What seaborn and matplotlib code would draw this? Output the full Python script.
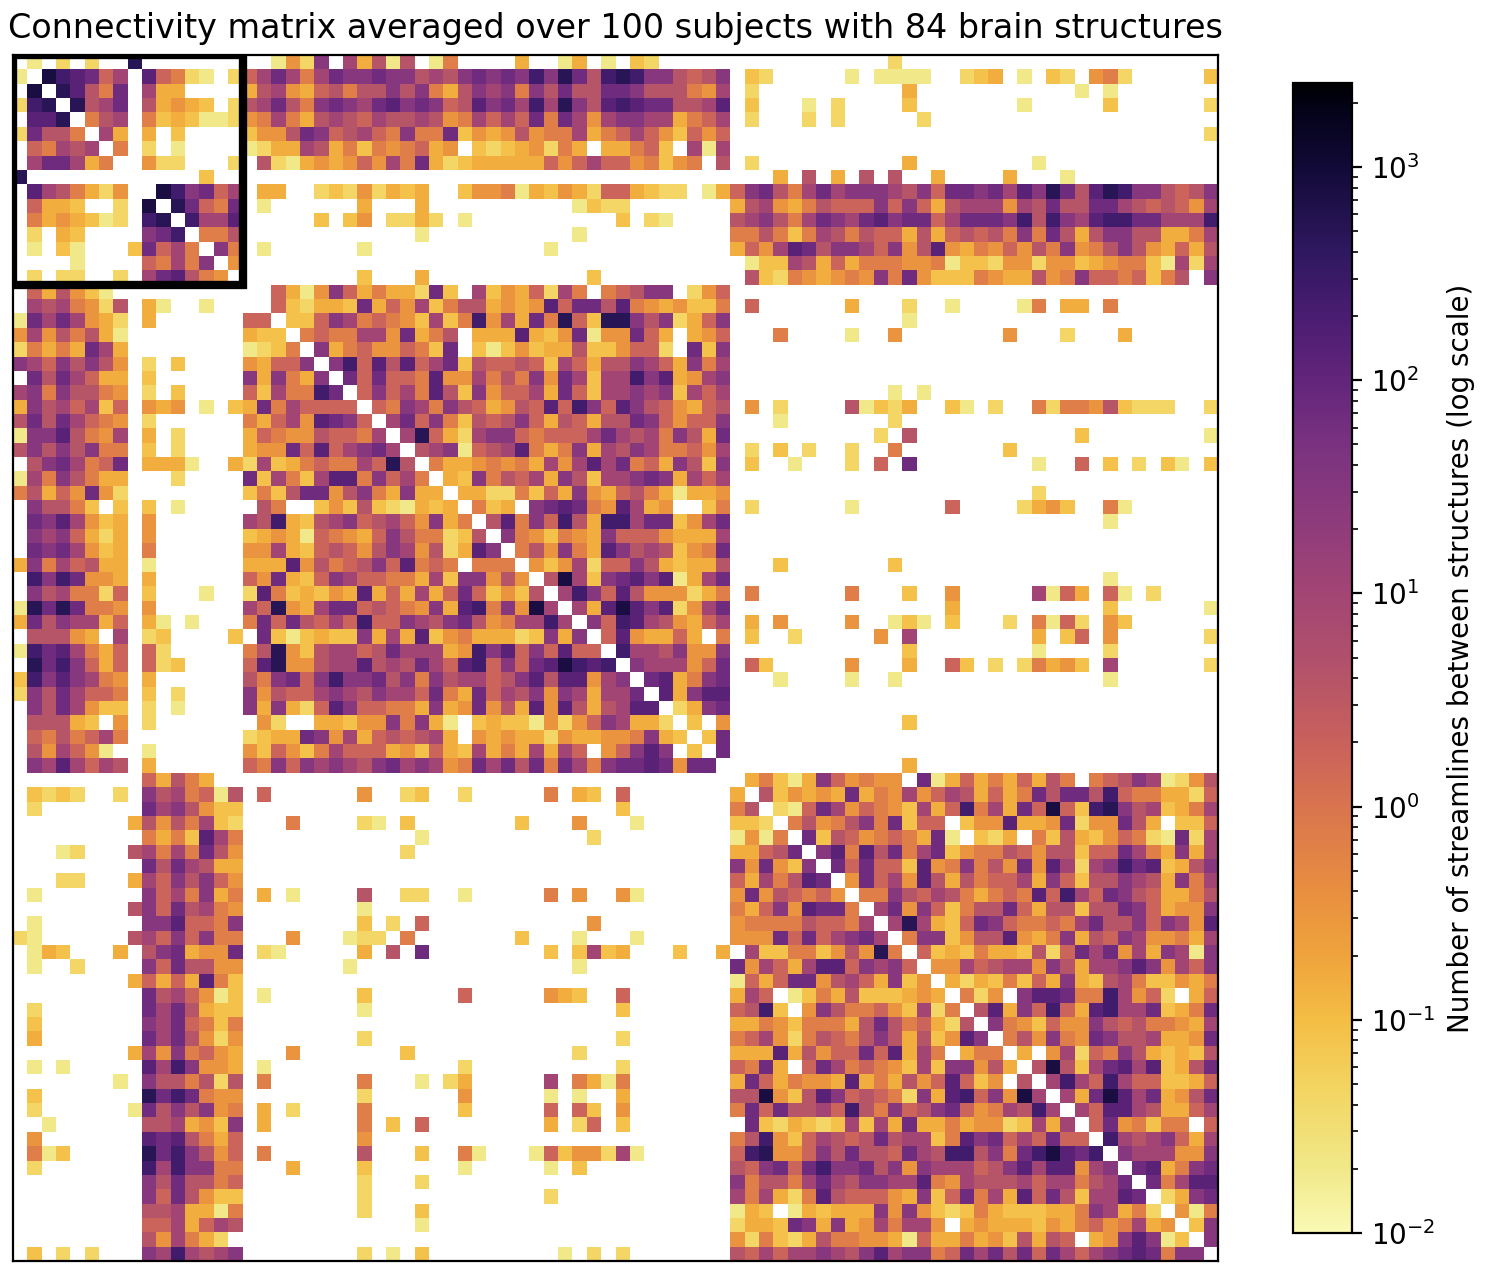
import numpy as np
import matplotlib
matplotlib.use("Agg")
import matplotlib.pyplot as plt
from matplotlib.colors import LinearSegmentedColormap, LogNorm
from matplotlib.patches import Rectangle
import seaborn as sns

# streamline counts, one symbol per cell ('.' = no connection)
level_codes = "0123456789abcde"
level_values = [0.02, 0.045, 0.085, 0.15, 0.33, 0.7, 1.8, 4, 10, 30, 70, 130, 250, 500, 800]

# upper triangle only, the matrix is symmetric
# rows 0-27: cols i-27 | cols 28-55 | cols 56-83
rows_top = [
    ".0.1.1..d.........0419.83707 .05....3..03.0.21 .....1",
    ".ecba68.b6510.168a858a99a99 7879a9a9c9da7cdc997679.21 ..0.0000..123.0.21.451.....2",
    ".db75a.833....378436757797 9537989597a77aa9777548.1 ......3...........0.0",
    ".d78a.73432.178a759a98ab9 a967b9a8c8d97bcbaa778b.2...0 .1....2.......0.....2......1",
    ".578.5232001458537876877 87458686a5a84899883568.1...1 .1.....1",
    ".83.3.2....2447a9678659 55a2434745583568642646 ...........................1",
    ".5.1.0....013387352545 634.21234153.33562.808 .",
    "..411...1.71034346485 a3123333364686645245.7.1 ......3........0",
    ".....2.. .........................3.7 .3.7.7..3....3...0",
    ".ec9a68.33..1214132 3..2445032431663211.0369a758 a89998796aa9a8b9da7bdc997679",
    ".da65a.0......3 3..........0211.......378435 7666969637888487a77aa8767648",
    ".c88b.....2.24.11 31.0..........2.10....789758 a98ab9aa68aaa9c7c98bccaa888c",
    ".557 0..........0..........557525 8757663736767595a73799773358",
    ".95.0......0 .........0............3648ba 79986947b4354647594579743637",
    ".4 .......................02287 3635554450221441442345520818",
    ".........2 3...........2..........72154 345495a4222543374596656257.9",
    "..6304963533 1a2.82436185.56799.146 .",
    ".621332a364 825773434b6aa7b5434225.6 ..3...1..0....05.33.5",
    ".226985654 2825c483a5d62dd9791369 ......0",
    ".5655884a 357.333b324a044a63.346...5 ..0..4.......4...1...3",
    ".9356446 52a.20242337224661.a29 .",
    ".9c6b7b 68a2766762863779863958 .",
    ".a6a66 5b44857594a8288c9b3489 .",
    ".6968 5b72946683a62889892868 .....0.0",
    ".659 859763476b6c96b9764367.4.1 ..70213..20.1..5155472111..1",
    ".8a 695276796376377a964669...0 .....1",
    ".8 d631899656668a8785973a ....1.7...........2........0",
    ". 7890678b53593879855648.1.2.1 ..1..5.......2",
]

# rows 28-55: cols i-55 | cols 56-83
rows_mid = [
    ".53345453848b8a5639729.2..0. ..1.6.a........0..6.2.1.20.2",
    ".32957683972889a93868 .",
    ".3311526394367530334 ...............1",
    ".523.9aba54b834..25.1 ..0......6....1342..50",
    ".7b596c73cc8aa248a ....................0",
    ".9542543966643338 .",
    ".574953b9787245a .",
    ".42481669732337...2 .....2",
    ".7e829ab9b038a ....................0",
    ".8c96b7444135.5 ..5...2..4.....8063.60.1",
    ".83beb9b148a .........3..........2......0",
    ".96cb874368.3.4 ..4..020.2...1.5061.42",
    ".6b43363.5.2..1 ....4.8........3.26.4......1",
    ".c8879449 ......2........0....1",
    ".988846a.62 ..4...3..62.1.15342.8......1",
    ".ab359a...0 ..0..0..............0",
    ".b39bb .",
    ".139a .",
    ".2.4 ......2",
    ".2a .",
    ".a .",
    ". ......3",
    ".35203 964544.a0363536375.567980147",
    ".7243 43a354846873635a7aa7c6553316",
    ".106 a846542836c583a6e62cd9782358",
    ".57 45795a266.244b334a144a73.226",
    ".a 27645653a0.213.5273246510a18",
    ". 9b5b7a58a245576477266a853938",
]

# rows 56-83: cols i-83
rows_low = [
    ".a6a662b459574a4b8189cab2379",
    ".4a684b73756683962779873958",
    ".559768753565b6c86a9763357",
    ".8a4962577a6377277a963449",
    ".8d8326a9655658a7796984b",
    ".5992477b43593769844538",
    ".62325332716a8a4839809",
    ".44867884973889b94869",
    ".3132526393278522435",
    ".514.9bba55c8461.36",
    ".7b396c63bc88a235a",
    ".9542644976755438",
    ".574954a9778334a",
    ".3.481659732327",
    ".7e728ab8b237a",
    ".8c86c8662236",
    ".83aeb8a347a",
    ".86bb873368",
    ".6a45255.6",
    ".c8789638",
    ".9888449",
    ".ab359a",
    ".a58bb",
    ".139a",
    ".405",
    ".29",
    ".9",
    ".",
]

title = "Connectivity matrix averaged over 100 subjects with 84 brain structures"
cbar_label = "Number of streamlines between structures (log scale)"
vmin, vmax = 0.01, 2480

# colours seen along the colorbar, at these values
cmap_values = [0.01, 0.02, 0.05, 0.1, 0.2, 0.4, 1, 2, 5, 10, 20, 50, 100, 200, 400, 1000, 2000, 2480]
cmap_colors = ["#fbfab5", "#f0e888", "#f3d35f", "#f4bd44", "#efa33c", "#e88e40", "#d9744f", "#c9615c",
               "#b0506c", "#a34574", "#903c7b", "#7a3280", "#62257b", "#4a1d72", "#2f1860", "#120a38",
               "#020215", "#000000"]

n = 84
lookup = dict(zip(level_codes, level_values))
matrix = np.zeros((n, n))


def put(row, start, stop, text):
    # text may stop early, the rest of the segment is empty
    for col, ch in zip(range(start, stop), text):
        if ch != ".":
            matrix[row, col] = lookup[ch]


for i, line in enumerate(rows_top):
    seg = line.split()
    put(i, i, 28, seg[0])
    put(i, 28, 56, seg[1])
    put(i, 56, 84, seg[2])
for i, line in enumerate(rows_mid):
    seg = line.split()
    put(28 + i, 28 + i, 56, seg[0])
    put(28 + i, 56, 84, seg[1])
for i, line in enumerate(rows_low):
    put(56 + i, 56 + i, 84, line)
matrix = matrix + matrix.T

norm = LogNorm(vmin=vmin, vmax=vmax)
cmap = LinearSegmentedColormap.from_list("streamlines", list(zip(norm(cmap_values), cmap_colors)), N=512)

fig = plt.figure(figsize=(7.45, 6.38), dpi=200)
ax = fig.add_axes([13 / 1490, 1 - 1261 / 1276, 1205 / 1490, 1206 / 1276])
cax = fig.add_axes([1293 / 1490, 1 - 1233 / 1276, 59 / 1490, 1150 / 1276])

sns.heatmap(matrix, mask=matrix == 0, cmap=cmap, norm=norm,
            square=False, xticklabels=False, yticklabels=False, ax=ax, cbar_ax=cax,
            cbar_kws={"label": cbar_label})

for spine in ax.spines.values():
    spine.set_visible(True)
    spine.set_linewidth(0.8)

cb = ax.collections[0].colorbar
cb.outline.set_linewidth(0.8)
cb.outline.set_edgecolor("black")

# first block of structures
ax.add_patch(Rectangle((0, 0), 16, 16, fill=False, edgecolor="black", linewidth=3))

ax.set_title(title)

plt.savefig("out.png", dpi=200)
